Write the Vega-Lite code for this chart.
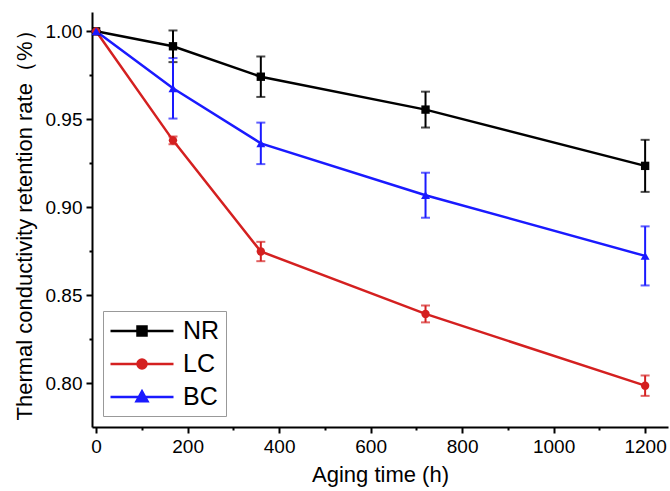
{
  "$schema": "https://vega.github.io/schema/vega-lite/v6.json",
  "width": 576,
  "height": 415,
  "autosize": {"type": "none"},
  "padding": {"left": 92, "top": 12, "right": 2, "bottom": 64},
  "background": "white",
  "config": {
    "view": {"stroke": null},
    "font": "Liberation Sans",
    "axis": {
      "grid": false,
      "domainColor": "black",
      "domainWidth": 2,
      "tickColor": "black",
      "tickWidth": 2,
      "labelColor": "black",
      "titleColor": "black",
      "labelFont": "Liberation Sans",
      "titleFont": "Liberation Sans",
      "labelFontSize": 19,
      "titleFontSize": 22,
      "titleFontWeight": "normal",
      "labelOverlap": false,
      "labelFlush": false,
      "labelBound": false
    }
  },
  "data": {
    "values": [
      {"series": "NR", "time": 0, "mean": 1.0, "err": 0},
      {"series": "NR", "time": 168, "mean": 0.9915, "err": 0.009},
      {"series": "NR", "time": 360, "mean": 0.9742, "err": 0.0115},
      {"series": "NR", "time": 720, "mean": 0.9555, "err": 0.0102},
      {"series": "NR", "time": 1200, "mean": 0.9235, "err": 0.0148},
      {"series": "LC", "time": 0, "mean": 1.0, "err": 0},
      {"series": "LC", "time": 168, "mean": 0.938, "err": 0.0022},
      {"series": "LC", "time": 360, "mean": 0.8748, "err": 0.0055},
      {"series": "LC", "time": 720, "mean": 0.8393, "err": 0.0048},
      {"series": "LC", "time": 1200, "mean": 0.7985, "err": 0.0058},
      {"series": "BC", "time": 0, "mean": 1.0, "err": 0},
      {"series": "BC", "time": 168, "mean": 0.9676, "err": 0.0172},
      {"series": "BC", "time": 360, "mean": 0.9363, "err": 0.0118},
      {"series": "BC", "time": 720, "mean": 0.9068, "err": 0.0128},
      {"series": "BC", "time": 1200, "mean": 0.8723, "err": 0.0168}
    ]
  },
  "encoding": {
    "x": {
      "field": "time",
      "type": "quantitative",
      "scale": {"domain": [-9, 1250], "nice": false, "zero": false},
      "axis": {
        "title": "Aging time (h)",
        "values": [0, 100, 200, 300, 400, 500, 600, 700, 800, 900, 1000, 1100, 1200],
        "labelExpr": "datum.value % 200 === 0 ? format(datum.value, 'd') : ''",
        "tickSize": {"condition": {"test": "datum.value % 200 !== 0", "value": 3}, "value": 6},
        "labelPadding": 4,
        "titlePadding": 8
      }
    },
    "y": {
      "field": "mean",
      "type": "quantitative",
      "scale": {"domain": [0.775, 1.011], "nice": false, "zero": false},
      "axis": {
        "title": "Thermal conductivity retention rate（%）",
        "values": [0.8, 0.825, 0.85, 0.875, 0.9, 0.925, 0.95, 0.975, 1.0],
        "labelExpr": "round(datum.value * 1000) % 50 === 0 ? format(datum.value, '.2f') : ''",
        "tickSize": {"condition": {"test": "round(datum.value * 1000) % 50 !== 0", "value": 3}, "value": 6},
        "labelPadding": 4,
        "titlePadding": 9
      }
    },
    "color": {
      "field": "series",
      "type": "nominal",
      "scale": {"domain": ["NR", "LC", "BC"], "range": ["#000000", "#d42020", "#1a1aff"]},
      "legend": {
        "title": null,
        "orient": "bottom-left",
        "offset": 11,
        "padding": 6,
        "strokeColor": "#999999",
        "fillColor": "white",
        "labelFont": "Liberation Sans",
        "labelFontSize": 25,
        "labelColor": "black",
        "symbolSize": 625,
        "symbolStrokeWidth": 2.5,
        "symbolOffset": 19,
        "labelOffset": 27,
        "rowPadding": 6,
        "encode": {
          "symbols": {
            "update": {
              "shape": {"signal": "datum.value === 'NR' ? 'M-2.52,0H2.52M-0.36,-0.36H0.36V0.36H-0.36Z' : datum.value === 'LC' ? 'M-2.52,0H2.52M-0.36,0A0.36,0.36 0 1,0 0.36,0A0.36,0.36 0 1,0 -0.36,0Z' : 'M-2.52,0H2.52M0,-0.46L0.44,0.34H-0.44Z'"},
              "fill": {"scale": "color", "field": "value"},
              "stroke": {"scale": "color", "field": "value"},
              "opacity": {"value": 1}
            }
          }
        }
      }
    }
  },
  "layer": [
    {
      "mark": {"type": "errorbar", "ticks": {"size": 9, "thickness": 2}, "thickness": 2},
      "encoding": {
        "yError": {"field": "err"}
      }
    },
    {
      "mark": {"type": "line", "strokeWidth": 2.5}
    },
    {
      "transform": [{"filter": "datum.series === 'NR'"}],
      "mark": {"type": "point", "filled": true, "opacity": 1, "size": 70, "shape": "square"}
    },
    {
      "transform": [{"filter": "datum.series === 'LC'"}],
      "mark": {"type": "point", "filled": true, "opacity": 1, "size": 70, "shape": "circle"}
    },
    {
      "transform": [{"filter": "datum.series === 'BC'"}],
      "mark": {"type": "point", "filled": true, "opacity": 1, "size": 80, "shape": "triangle-up"}
    }
  ]
}
